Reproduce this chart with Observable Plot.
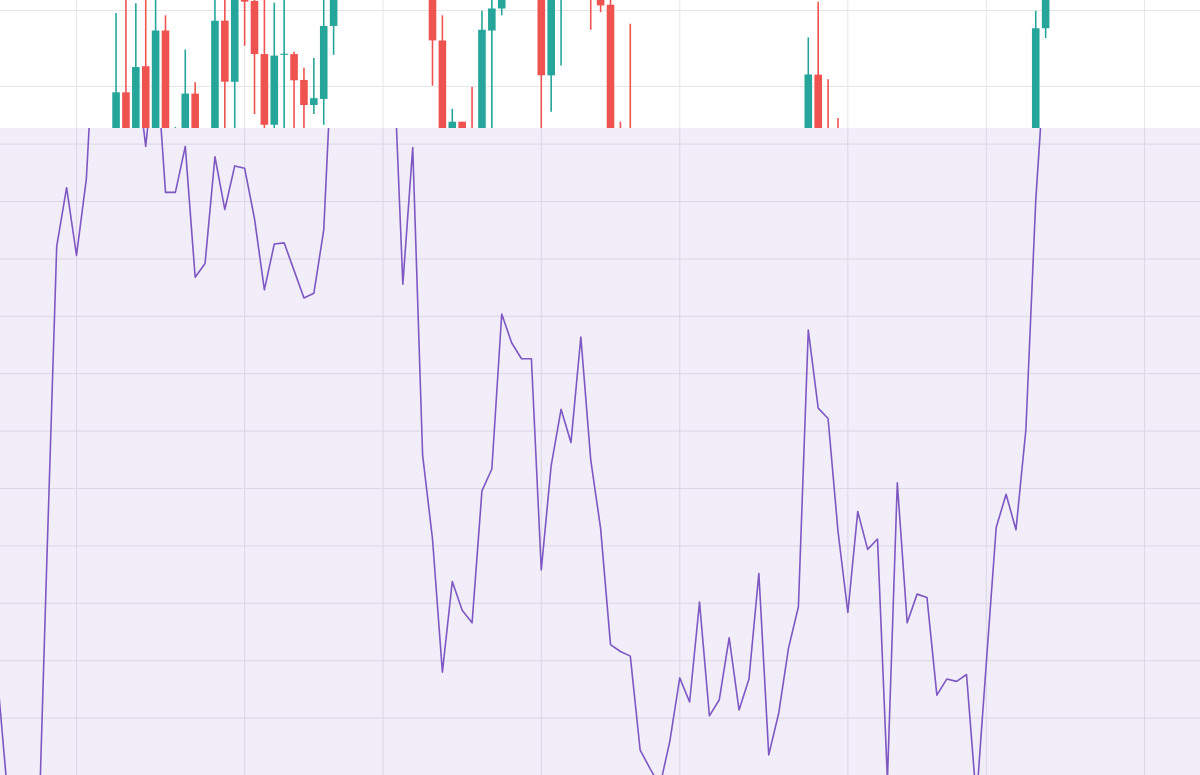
<!DOCTYPE html>
<html>
<head>
<meta charset="utf-8">
<script src="https://cdn.jsdelivr.net/npm/d3@7"></script>
<script src="https://cdn.jsdelivr.net/npm/@observablehq/plot@0.6"></script>
<style>
  html, body { margin: 0; padding: 0; background: #ffffff; }
  #chart { width: 1200px; height: 775px; overflow: hidden; }
  #chart svg { display: block; }
</style>
</head>
<body>
<div id="chart"></div>
<script>
// ---- data (one entry per day, 2024-03-07 .. 2024-07-07) ----
const firstDay = "2024-03-07";
const lastDayExclusive = "2024-07-08";

const open = [
  86, 85, 84, 83, 82, 85, 88, 91,
  90, 92, 91, 93, 92, 99.17, 93, 102.6, 92, 107.3,
  89, 90, 99.0, 92, 91, 108.6, 100.57, 113, 111.2, 104.2,
  94.9, 104.1, 104.2, 100.8, 97.5, 98.3, 107.9, 114, 117, 120,
  118, 121, 123, 122, 118, 121, 114, 106.0, 90, 95.3,
  92, 90, 107.3, 110.2, 114, 117, 116, 118, 101.4, 113,
  116, 118, 116, 113, 110.7, 90, 88, 86, 84, 82,
  80, 82, 84, 82, 86, 81, 82, 85, 81, 83,
  87, 80, 82, 85, 88, 101.5, 92, 90, 88, 85,
  88, 86, 87, 81, 85, 83, 84, 84, 82, 82.5,
  82.3, 83, 79, 82, 86, 87, 86, 90, 107.6, 115,
  117, 120, 119, 123, 122, 124, 127, 124, 126, 129,
  127, 128, 131, 129, 130
];
const high = [
  88, 87, 86, 85, 86, 89, 92, 93,
  93, 94, 93.5, 94.2, 109.6, 113, 110.9, 114, 113, 109.3,
  94.6, 104.8, 100.5, 94, 113, 113, 114, 114, 113, 113,
  110.96, 112, 104.5, 102.4, 103.7, 113, 116, 118, 121, 123,
  122, 125, 126, 124, 123, 122, 116, 109.3, 97.0, 95.3,
  99.9, 109.9, 113, 116, 118, 120, 119, 120, 115, 117,
  119, 121, 118, 114, 114, 95.3, 108.2, 88, 86, 84,
  83, 85, 85, 87, 87, 83, 86, 86, 84, 88,
  88, 83, 86, 89, 106.4, 111.1, 100.9, 95.8, 89, 89,
  89, 88, 87.5, 86, 86, 85, 85, 84.5, 83, 83,
  83.5, 83.5, 83, 87, 88, 88, 91, 109.9, 116, 118,
  121, 122, 124, 126, 125, 128, 129, 127, 130, 131,
  129, 132, 133, 132, 133
];
const low = [
  83, 82, 81, 80, 80, 84, 87, 89,
  88, 90, 89, 91, 90, 91, 91, 90, 90, 88,
  88, 88, 89, 88, 89, 92, 93, 105.3, 96.3, 93,
  93, 93, 93, 93, 96.3, 94.9, 104.1, 112, 115, 117,
  116, 119, 120, 116, 117, 113, 100.04, 88, 88, 89,
  87, 88, 93, 109.3, 113, 115, 113, 93, 96.6, 102.7,
  114, 115, 107.4, 109.7, 88, 86, 85, 82, 80, 78,
  79, 80, 81, 81, 80, 79, 81, 80, 80, 82,
  79, 79, 81, 84, 86, 90, 88, 86, 84, 84,
  85, 85, 80, 80, 82, 82, 83, 81, 81, 81.5,
  82, 78, 78, 81, 85, 85, 85, 89, 106.3, 113,
  115, 117, 118, 121, 119, 122, 123, 121, 125, 126,
  124, 127, 128, 127, 128
];
const close = [
  85, 84, 83, 82, 85, 88, 91, 90,
  92, 91, 93, 92, 99.17, 93, 102.5, 92, 107.3, 91,
  91, 99.0, 92, 91, 108.6, 100.57, 113, 111.1, 104.2, 94.9,
  104.0, 104.25, 100.75, 97.5, 98.4, 107.9, 114, 117, 120, 118,
  121, 123, 122, 118, 121, 114, 106.0, 90, 95.3, 92,
  90, 107.4, 110.2, 114, 117, 116, 118, 101.4, 113, 116,
  118, 116, 112, 110.6, 90, 88, 86, 84, 82, 80,
  82, 84, 82, 86, 81, 82, 85, 81, 83, 87,
  80, 82, 85, 88, 101.5, 92, 90, 88, 85, 88,
  86, 87, 81, 85, 83, 84, 84.2, 82, 82.5, 82.3,
  83, 79, 82, 86, 87, 86, 90, 107.6, 115, 117,
  120, 119, 123, 122, 124, 127, 124, 126, 129, 127,
  128, 131, 129, 130, 132
];
const rsi = [
  28.6, 18.7, 12, 10, 10, 38.7, 66.1, 71.2,
  65.3, 72.0, 88, 90, 87, 89, 82, 74.8, 83.3, 70.8,
  70.8, 74.8, 63.4, 64.6, 73.9, 69.3, 73.1, 72.9, 68.5, 62.3,
  66.3, 66.4, 64.0, 61.6, 62.0, 67.5, 85.8, 84, 86, 83,
  85, 82, 84, 62.8, 74.7, 47.9, 40.6, 29.0, 36.9, 34.4,
  33.3, 44.8, 46.7, 60.2, 57.7, 56.3, 56.3, 37.9, 47.0, 51.9,
  49.0, 58.2, 47.5, 41.5, 31.4, 30.8, 30.4, 22.2, 20.6, 19.1,
  23.0, 28.5, 26.4, 35.1, 25.2, 26.6, 32.0, 25.7, 28.4, 37.6,
  21.8, 25.4, 31.1, 34.7, 58.8, 52.0, 51.1, 41.3, 34.2, 43.0,
  39.7, 40.6, 19.6, 45.5, 33.3, 35.8, 35.5, 27.0, 28.4, 28.2,
  28.8, 17.8, 29.8, 41.6, 44.5, 41.4, 50.1, 70.1, 83.2, 82,
  84, 80, 83, 85, 81, 84, 86, 82, 80, 83,
  85, 84, 81, 83, 84
];

// grid tick values
const dateTicks = ["2024-03-15", "2024-04-01", "2024-04-15", "2024-05-01",
                   "2024-05-15", "2024-06-01", "2024-06-15", "2024-07-01"];
const priceTicks = [100, 110];
const rsiTicks = [25, 30, 35, 40, 45, 50, 55, 60, 65, 70, 75];

// visible windows
const xDomain = [new Date("2024-03-07T07:34:00Z"), new Date("2024-07-06T15:50:00Z")];
const priceDomain = [94.474, 111.316];
const rsiDomain = [20, 76.36];

// ---- build table ----
const days = d3.utcDay.range(new Date(firstDay + "T00:00:00Z"), new Date(lastDayExclusive + "T00:00:00Z"));
const rows = days.map((date, i) => ({
  date, open: open[i], high: high[i], low: low[i], close: close[i], rsi: rsi[i],
  up: close[i] >= open[i]
}));
const tickDates = dateTicks.map(s => new Date(s + "T00:00:00Z"));

const GREEN = "#26a69a", RED = "#ef5350";

const pricePanel = Plot.plot({
  width: 1200,
  height: 128,
  margin: 0,
  x: {type: "utc", domain: xDomain, axis: null},
  y: {domain: priceDomain, axis: null},
  style: {background: "#ffffff", overflow: "hidden"},
  marks: [
    Plot.gridX(tickDates, {stroke: "#e6e6ea", strokeOpacity: 1, strokeWidth: 1}),
    Plot.gridY(priceTicks, {stroke: "#e6e6ea", strokeOpacity: 1, strokeWidth: 1}),
    Plot.ruleX(rows, {x: "date", y1: "low", y2: "high",
      stroke: d => d.up ? GREEN : RED, strokeWidth: 1.6, clip: true}),
    Plot.ruleX(rows, {x: "date", y1: "open", y2: "close",
      stroke: d => d.up ? GREEN : RED, strokeWidth: 7.6, clip: true})
  ]
});

const rsiPanel = Plot.plot({
  width: 1200,
  height: 647,
  margin: 0,
  x: {type: "utc", domain: xDomain, axis: null},
  y: {domain: rsiDomain, axis: null},
  style: {background: "#f1edf9", overflow: "hidden"},
  marks: [
    Plot.gridX(tickDates, {stroke: "#dcd6e6", strokeOpacity: 1, strokeWidth: 1}),
    Plot.gridY(rsiTicks, {stroke: "#dcd6e6", strokeOpacity: 1, strokeWidth: 1}),
    Plot.line(rows, {x: "date", y: "rsi", stroke: "#7e57c2", strokeWidth: 1.6, clip: true})
  ]
});

const chart = document.getElementById("chart");
chart.appendChild(pricePanel);
chart.appendChild(rsiPanel);
</script>
</body>
</html>
